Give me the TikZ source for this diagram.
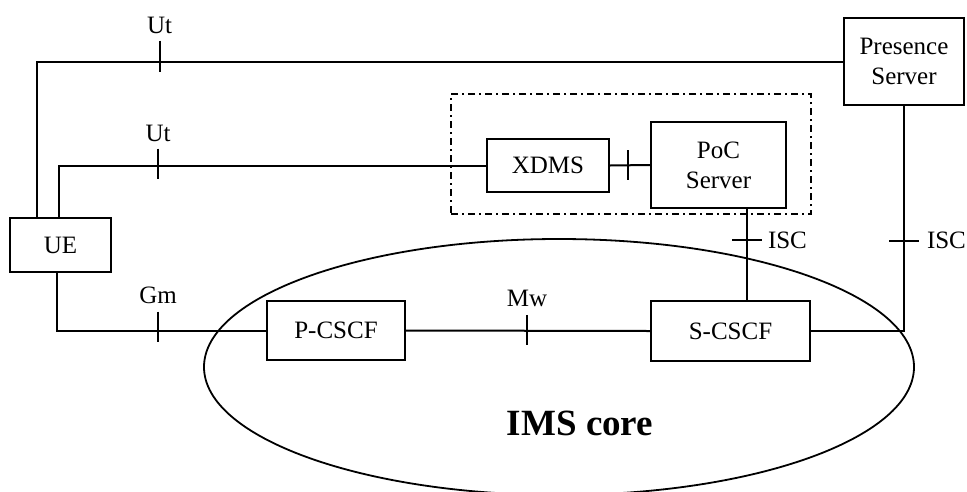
\documentclass[tikz,border=0pt]{standalone}
\usepackage{fontspec}
\setmainfont{Liberation Serif}
\usetikzlibrary{shapes.geometric}
\begin{document}
\begin{tikzpicture}[x=1pt,y=-1pt, line width=2pt,
  box/.style={draw, inner sep=0pt, align=center, font=\fontsize{25}{30}\selectfont},
  lbl/.style={font=\fontsize{25}{30}\selectfont, inner sep=0pt},
  dashbox/.style={draw, line width=2.4pt, dash pattern=on 7pt off 4pt on 2pt off 4pt, inner sep=0pt},
  core/.style={draw, ellipse, inner sep=0pt, line width=1.8pt},
]
\useasboundingbox (0,0) rectangle (967,491);
\clip (0,0) rectangle (967,491);

% IMS core ellipse
\node[core, minimum width=710pt, minimum height=256pt] (ims) at (559,367) {};
\node[font=\fontsize{37}{40}\selectfont\bfseries, inner sep=0pt, anchor=base] (imslbl) at (580,435) {IMS core};

% boxes
\node[box, minimum width=101pt, minimum height=54pt] (UE) at (60.5,245) {UE};
\node[box, minimum width=120pt, minimum height=87pt] (Pres) at (904,61.5) {Presence\\Server};
\node[dashbox, minimum width=360pt, minimum height=120pt] (grp) at (631,154) {};
\node[box, minimum width=122pt, minimum height=53pt] (XDMS) at (548,165.5) {XDMS};
\node[box, minimum width=135pt, minimum height=86pt] (PoC) at (718.5,165) {PoC\\Server};
\node[box, minimum width=138pt, minimum height=59pt] (PCSCF) at (336,330.5) {P-CSCF};
\node[box, minimum width=159pt, minimum height=60pt] (SCSCF) at (730.5,331) {S-CSCF};

% UE - Presence (Ut)
\draw ([xshift=28pt]UE.north west) |- coordinate[pos=0.576] (t1) (Pres.west);
\draw ([yshift=21pt]t1) -- ([yshift=-10pt]t1);
\node[lbl, anchor=base] (ut1) at ([yshift=28pt]t1) {Ut};

% UE - XDMS (Ut)
\draw ([xshift=50pt]UE.north west) |- coordinate[pos=0.616] (t2) (XDMS.west);
\draw ([yshift=17pt]t2) -- ([yshift=-13pt]t2);
\node[lbl, anchor=base] (ut2) at ([yshift=24pt]t2) {Ut};

% XDMS - PoC
\draw (XDMS.east) -- coordinate[pos=0.45] (t3) (PoC.west);
\draw ([yshift=15pt]t3) -- ([yshift=-15pt]t3);

% UE - P-CSCF (Gm)
\draw ([xshift=48pt]UE.south west) |- coordinate[pos=0.742] (t4) (PCSCF.west);
\draw ([yshift=19pt]t4) -- ([yshift=-11pt]t4);
\node[lbl, anchor=base] (gm) at ([yshift=27pt]t4) {Gm};

% P-CSCF - S-CSCF (Mw)
\draw (PCSCF.east) -- coordinate[pos=0.496] (t5) (SCSCF.west);
\draw ([yshift=16pt]t5) -- ([yshift=-14pt]t5);
\node[lbl, anchor=base] (mw) at ([yshift=24pt]t5) {Mw};

% PoC - S-CSCF (ISC)
\draw ([xshift=28.5pt]PoC.south) coordinate (p1) -- coordinate[pos=0.344] (t6) (p1 |- SCSCF.north);
\draw ([xshift=-15pt]t6) -- ([xshift=15pt]t6);
\node[lbl, anchor=base west] (isc1) at ([xshift=20pt,yshift=-8pt]t6) {ISC};

% Presence - S-CSCF (ISC)
\draw (Pres.south) |- coordinate[pos=0.299] (t7) (SCSCF.east);
\draw ([xshift=-15pt]t7) -- ([xshift=15pt]t7);
\node[lbl, anchor=base west] (isc2) at ([xshift=22pt,yshift=-8pt]t7) {ISC};
\end{tikzpicture}
\end{document}
